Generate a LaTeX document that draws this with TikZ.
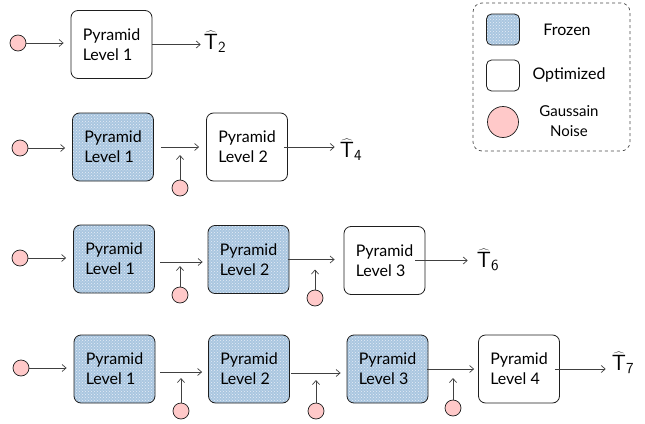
\documentclass[tikz,border=0pt]{standalone}
\usepackage{fontspec}
\setmainfont{Lato}
\usetikzlibrary{arrows.meta,patterns}
\definecolor{ink}{HTML}{1E1E1E}
\definecolor{frz}{RGB}{170,198,224}
\definecolor{pinkf}{HTML}{FFC9C9}
\tikzset{
  box/.style={draw=ink, rounded corners=7pt, minimum width=81pt, minimum height=68pt,
    align=left, font=\fontsize{16}{20}\selectfont, inner sep=0pt, line width=0.8pt},
  frozen/.style={box, preaction={fill=frz}, pattern=crosshatch dots, pattern color=white!70!frz},
  optbox/.style={box, fill=white},
  noise/.style={circle, draw=ink, fill=pinkf, minimum size=16pt, inner sep=0pt, line width=0.7pt},
  arr/.style={draw=ink!85, line width=0.7pt, -{Straight Barb[length=4pt,width=7pt]}},
  tout/.style={font=\fontsize{22}{22}\selectfont, inner sep=1pt},
  legtxt/.style={font=\fontsize{16}{20}\selectfont, align=center}
}
\begin{document}
\begin{tikzpicture}[x=1pt,y=-1pt]
\useasboundingbox (0,0) rectangle (645,423);

% legend
\node[draw=ink!80, dashed, rounded corners=9pt, line width=0.7pt, minimum width=157pt, minimum height=148pt, inner sep=0pt] (legend) at (551.5,77) {};
\node[box, frozen, minimum width=33pt, minimum height=31pt, rounded corners=5pt] (lf) at (503,29.5) {};
\node[legtxt] (lft) at (567,30) {Frozen};
\node[box, optbox, minimum width=33pt, minimum height=31pt, rounded corners=5pt] (lo) at (503,75.5) {};
\node[legtxt] (lot) at (569,75) {Optimized};
\node[noise, minimum size=31pt] (ln) at (503,122) {};
\node[legtxt, font=\fontsize{15}{20}\selectfont] (lnt) at (569,121) {Gaussain\\Noise};

% row 1
\node[noise] (n1) at (18,43) {};
\node[box, optbox] (b11) at (111.5,44.5) {Pyramid\\Level 1};
\node[tout] (t1) at (215,42) {$\widehat{\mathsf{T}}_{\mathsf{2}}$};
\draw[arr, shorten >=7pt] (n1.east) -- (n1.east -| b11.west);
\draw[arr, shorten >=2pt] (b11.east) -- (b11.east -| t1.west);

% row 2
\node[noise] (n2) at (20,148) {};
\node[box, frozen] (b21) at (113,147) {Pyramid\\Level 1};
\node[box, optbox] (b22) at (247,147) {Pyramid\\Level 2};
\node[tout] (t2) at (351,150) {$\widehat{\mathsf{T}}_{\mathsf{4}}$};
\node[noise] (z21) at (180,188) {};
\draw[arr, shorten >=7pt] (n2.east) -- (n2.east -| b21.west);
\draw[arr, shorten <=7pt, shorten >=7pt] (b21.east) -- (b21.east -| b22.west);
\draw[arr, shorten <=-4pt, shorten >=4pt] (b22.east) -- (b22.east -| t2.west);
\draw[arr, shorten >=8pt] (z21.north) -- (z21.north |- b21.east);

% row 3
\node[noise] (n3) at (20,258) {};
\node[box, frozen] (b31) at (114,259) {Pyramid\\Level 1};
\node[box, frozen] (b32) at (248.5,259.5) {Pyramid\\Level 2};
\node[box, optbox] (b33) at (384.5,260.5) {Pyramid\\Level 3};
\node[tout] (t3) at (488,260) {$\widehat{\mathsf{T}}_{\mathsf{6}}$};
\node[noise] (z31) at (180,295) {};
\node[noise] (z32) at (315,298) {};
\coordinate (r31) at (155,262);
\draw[arr, shorten >=7pt] (n3.east) -- (n3.east -| b31.west);
\draw[arr, shorten <=5pt, shorten >=5pt] (r31) -- (r31 -| b32.west);
\draw[arr, shorten <=-1pt, shorten >=9pt] (b32.east) -- (b32.east -| b33.west);
\draw[arr, shorten <=-10pt, shorten >=8pt] (b33.east) -- (b33.east -| t3.west);
\draw[arr, shorten >=4pt] (z31.north) -- (z31.north |- r31);
\draw[arr, shorten >=10pt] (z32.north) -- (z32.north |- b32.east);

% row 4
\node[noise] (n4) at (21,368) {};
\node[box, frozen] (b41) at (114.5,369) {Pyramid\\Level 1};
\node[box, frozen] (b42) at (249,369) {Pyramid\\Level 2};
\node[box, frozen] (b43) at (387.5,369) {Pyramid\\Level 3};
\node[box, optbox] (b44) at (519,369) {Pyramid\\Level 4};
\node[tout] (t4) at (623,363) {$\widehat{\mathsf{T}}_{\mathsf{7}}$};
\node[noise] (z41) at (181,411) {};
\node[noise] (z42) at (316,411) {};
\node[noise] (z43) at (453,408) {};
\coordinate (r41) at (155,372);
\coordinate (r42) at (290,373);
\coordinate (r43) at (428,369);
\draw[arr, shorten >=7pt] (n4.east) -- (n4.east -| b41.west);
\draw[arr, shorten <=5pt, shorten >=6pt] (r41) -- (r41 -| b42.west);
\draw[arr, shorten <=1pt, shorten >=6pt] (r42) -- (r42 -| b43.west);
\draw[arr, shorten <=-1pt, shorten >=4pt] (r43) -- (r43 -| b44.west);
\draw[arr, shorten <=-5pt, shorten >=5pt] (b44.east) -- (b44.east -| t4.west);
\draw[arr, shorten >=6pt] (z41.north) -- (z41.north |- r41);
\draw[arr, shorten >=7pt] (z42.north) -- (z42.north |- r42);
\draw[arr, shorten >=9pt] (z43.north) -- (z43.north |- r43);
\end{tikzpicture}
\end{document}
